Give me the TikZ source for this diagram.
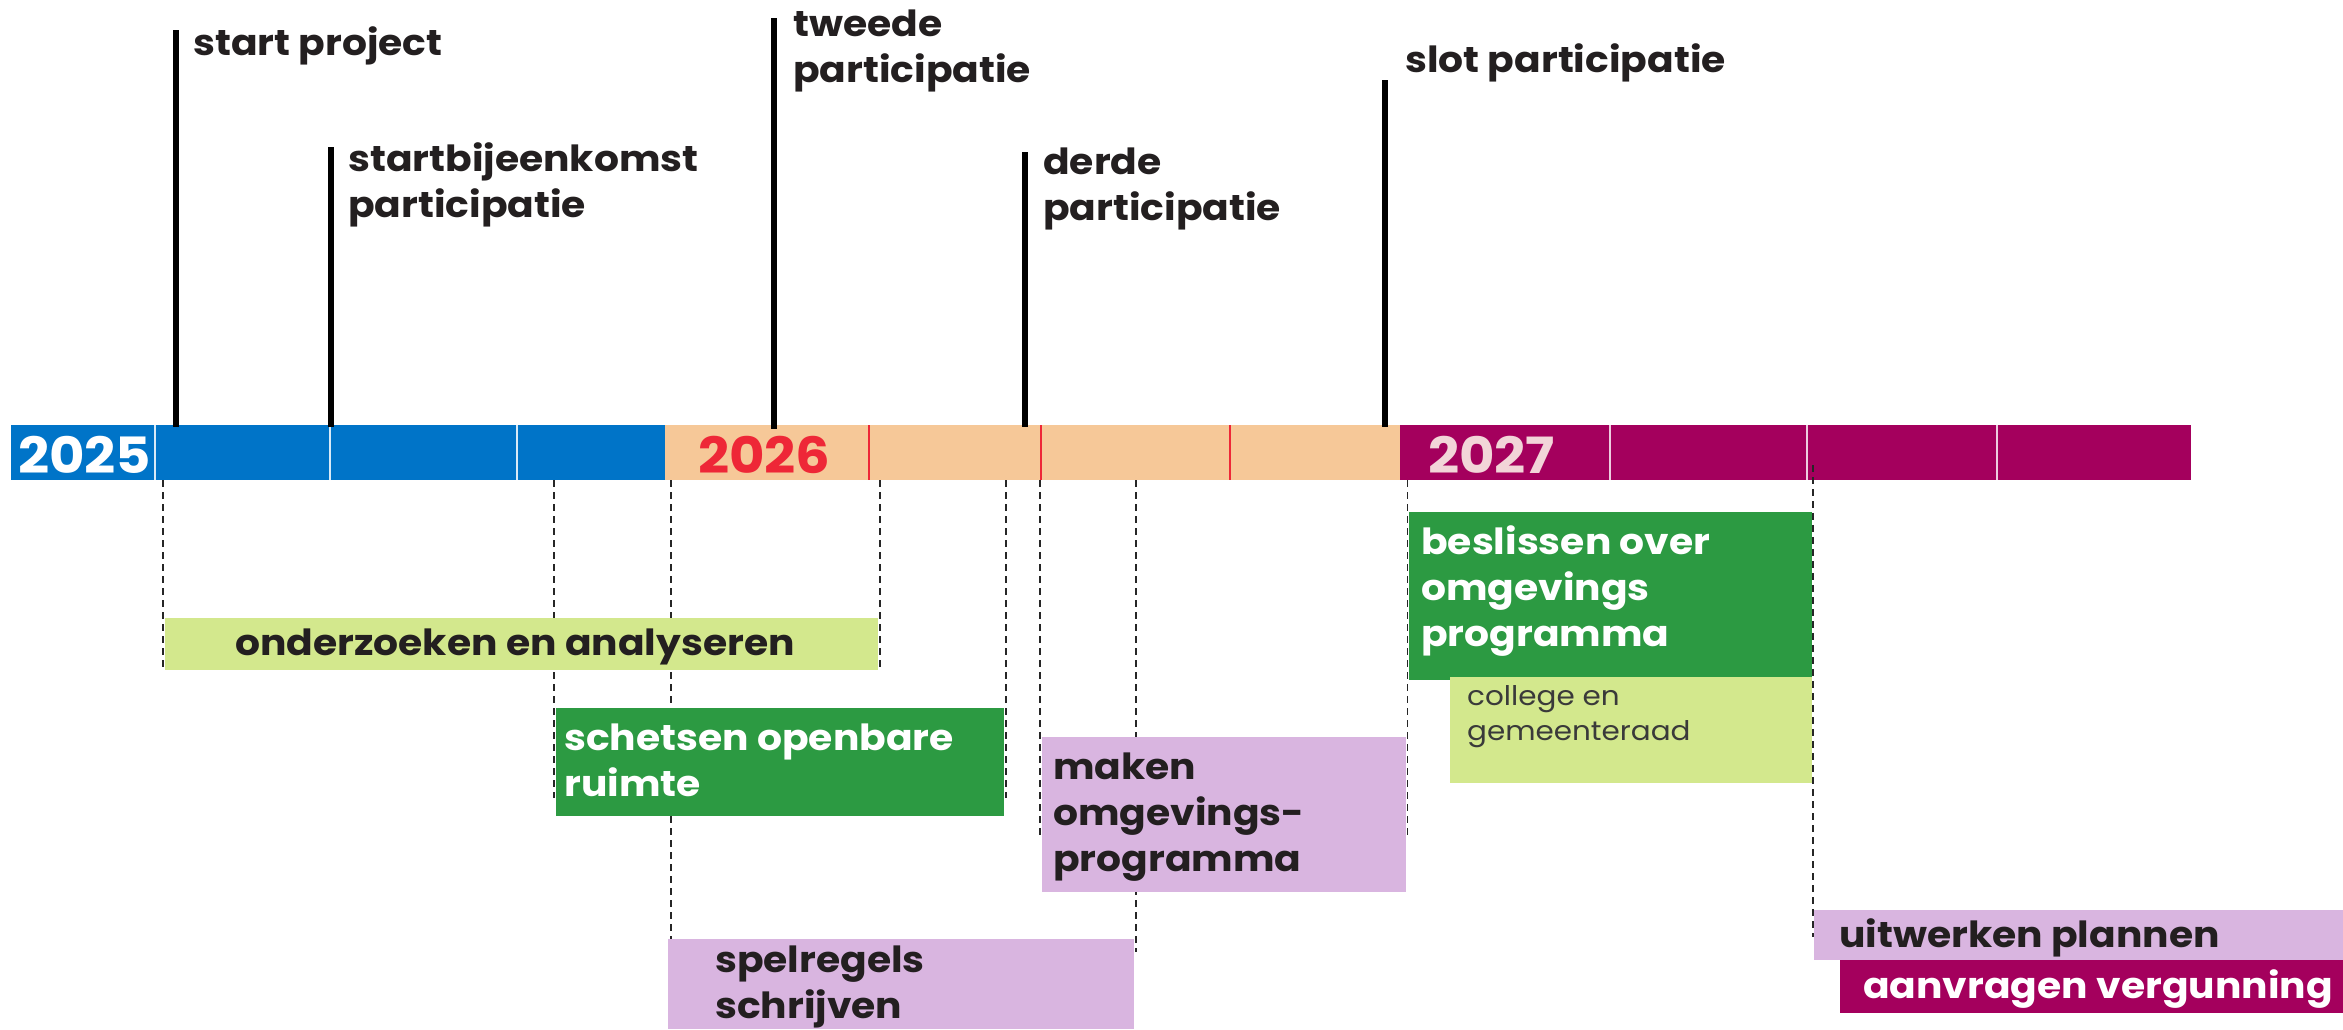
\documentclass[tikz,border=0pt]{standalone}
\usepackage{fontspec}
\setmainfont{Poppins}
\newfontfamily\lblfont{Poppins}[FakeStretch=1.09]
\definecolor{cblue}{HTML}{0074C8}
\definecolor{cpeach}{HTML}{F6C898}
\definecolor{cred}{HTML}{EE2737}
\definecolor{cpurple}{HTML}{A4005D}
\definecolor{cpink}{HTML}{F2D5D8}
\definecolor{clgreen}{HTML}{D3E88D}
\definecolor{cgreen}{HTML}{2C9A42}
\definecolor{clilac}{HTML}{D9B5E0}
\definecolor{ink}{HTML}{231F20}
\definecolor{cgray}{HTML}{3A3A3A}
\tikzset{
  msline/.style={line width=5.5pt, black},
  dashline/.style={line width=1.4pt, black!85, dash pattern=on 7pt off 5pt},
  sepw/.style={line width=1.5pt, white!85!cblue},
  sepr/.style={line width=1.5pt, cred},
  sepp/.style={line width=1.5pt, white!80!cpurple},
  boxn/.style={anchor=north west, inner sep=0pt, outer sep=0pt, draw=none},
  lbl/.style={font=\lblfont\bfseries\fontsize{36}{46}\selectfont, text=ink, inner sep=0pt, anchor=base west, align=left},
  yr/.style={font=\lblfont\bfseries\fontsize{50}{50}\selectfont, inner sep=0pt, anchor=base west},
  small/.style={font=\lblfont\fontsize{27}{35}\selectfont, text=cgray, inner sep=0pt, anchor=base west, align=left}
}
\begin{document}
\begin{tikzpicture}[x=1pt, y=-1pt]
\useasboundingbox (0,0) rectangle (2343,1029);
% timeline bar
\node[boxn, fill=cblue, minimum width=654pt, minimum height=55pt] (b25) at (11,425) {};
\node[boxn, fill=cpeach, minimum width=735pt, minimum height=55pt] (b26) at (665,425) {};
\node[boxn, fill=cpurple, minimum width=791pt, minimum height=55pt] (b27) at (1400,425) {};
\foreach \x in {155,330,517} \draw[sepw] (\x,425) -- (\x,480);
\foreach \x in {869,1041,1230} \draw[sepr] (\x,425) -- (\x,480);
\foreach \x in {1610,1807,1997} \draw[sepp] (\x,425) -- (\x,480);
\node[yr, text=white] (y25) at (18,473) {2025};
\node[yr, text=cred] (y26) at (698,473) {2026};
\node[yr, text=cpink] (y27) at (1428,473) {2027};
% dashed guide coordinates
\coordinate (d1) at (163,480);  \coordinate (e1) at (163,670);
\coordinate (d2) at (554,480);  \coordinate (e2) at (554,798);
\coordinate (d3) at (671,480);  \coordinate (e3) at (671,939);
\coordinate (d4) at (880,480);  \coordinate (e4) at (880,670);
\coordinate (d5) at (1006,480); \coordinate (e5) at (1006,798);
\coordinate (d6) at (1040,480); \coordinate (e6) at (1040,835);
\coordinate (d7) at (1136,480); \coordinate (e7) at (1136,952);
\coordinate (d8) at (1407.5,480); \coordinate (e8) at (1407.5,835);
\coordinate (d9) at (1813,465); \coordinate (e9) at (1813,937);
\foreach \i in {1,...,9} \draw[dashline] (d\i) -- (e\i);
% boxes
\node[boxn, fill=clgreen, minimum width=713pt, minimum height=52pt] (onder) at (165,618) {};
\node[boxn, fill=cgreen, minimum width=448pt, minimum height=108pt] (schets) at (556,708) {};
\node[boxn, fill=clilac, minimum width=364pt, minimum height=155pt] (maken) at (1042,737) {};
\node[boxn, fill=clilac, minimum width=466pt, minimum height=90pt] (spel) at (668,939) {};
\node[boxn, fill=cgreen, minimum width=403pt, minimum height=168pt] (besl) at (1409,512) {};
\node[boxn, fill=clgreen, minimum width=362pt, minimum height=106pt] (coll) at (1450,677) {};
\node[boxn, fill=clilac, minimum width=529pt, minimum height=50pt] (uitw) at (1814,910) {};
\node[boxn, fill=cpurple, minimum width=503pt, minimum height=53pt] (aanv) at (1840,960) {};
% box texts (anchor = baseline of the last line)
\node[lbl, anchor=base] (tonder) at (515,655) {onderzoeken en analyseren};
\node[lbl, text=white] (tschets) at (564,796) {schetsen openbare\\ruimte};
\node[lbl] (tmaken) at (1053,871) {maken\\omgevings-\\programma};
\node[lbl] (tspel) at (715,1018) {spelregels\\schrijven};
\node[lbl, text=white] (tbesl) at (1421,646) {beslissen over\\omgevings\\programma};
\node[small] (tcoll) at (1467,740) {college en\\gemeenteraad};
\node[lbl] (tuitw) at (1839,947) {uitwerken plannen};
\node[lbl, text=white] (taanv) at (1863,998) {aanvragen vergunning};
% milestones
\coordinate (m1a) at (176,30);   \coordinate (m1b) at (176,427);
\coordinate (m2a) at (331,147);  \coordinate (m2b) at (331,427);
\coordinate (m3a) at (774,18);   \coordinate (m3b) at (774,429);
\coordinate (m4a) at (1025,152); \coordinate (m4b) at (1025,427);
\coordinate (m5a) at (1385,80);  \coordinate (m5b) at (1385,427);
\foreach \i in {1,...,5} \draw[msline] (m\i a) -- (m\i b);
\node[lbl] (l1) at (193,55) {start project};
\node[lbl] (l2) at (348,217) {startbijeenkomst\\participatie};
\node[lbl] (l3) at (793,82) {tweede\\participatie};
\node[lbl] (l4) at (1043,220) {derde\\participatie};
\node[lbl] (l5) at (1405,72) {slot participatie};
\end{tikzpicture}
\end{document}
